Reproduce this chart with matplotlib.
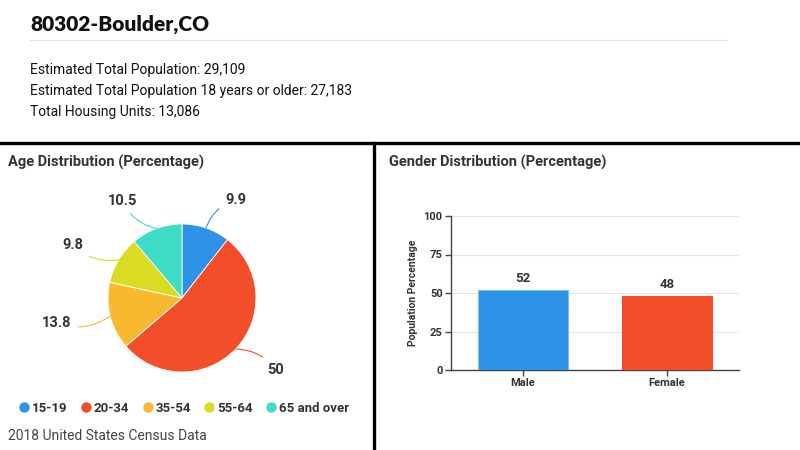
import numpy as np
import matplotlib
import matplotlib.pyplot as plt
from matplotlib.lines import Line2D

matplotlib.use('Agg')

# ── Data ─────────────────────────────────────────────────────────────────────
title = '80302-Boulder,CO'
stats = [
    'Estimated Total Population: 29,109',
    'Estimated Total Population 18 years or older: 27,183',
    'Total Housing Units: 13,086',
]
age_groups = ['15-19', '20-34', '35-54', '55-64', '65 and over']
age_values = [9.9, 50, 13.8, 9.8, 10.5]
age_colors = ['#2E93E6', '#F34E2A', '#F7B92F', '#DADC24', '#3EDBC5']

genders = ['Male', 'Female']
gender_values = [52, 48]
gender_colors = ['#2E93E6', '#F34E2A']
gender_yticks = [0, 25, 50, 75, 100]

W, H = 800, 450
ROBOTO = ['Roboto', 'DejaVu Sans']


def fx(px):
    return px / W


def fy(py):
    return 1 - py / H


fig = plt.figure(figsize=(8, 4.5), dpi=100, facecolor='white')

# ── Header ───────────────────────────────────────────────────────────────────
fig.text(fx(30), fy(24), title, fontsize=15, fontweight='heavy',
         family=['Lato', 'DejaVu Sans'], color='#111111', va='center')
fig.add_artist(Line2D([fx(30), fx(727)], [fy(40), fy(40)], color='#e2e2e2', lw=0.8))
for i, s in enumerate(stats):
    fig.text(fx(30), fy(70 + i * 21), s, fontsize=10, family=ROBOTO,
             color='#111111', va='center')

# panel separators
fig.add_artist(Line2D([0, 1], [fy(143), fy(143)], color='black', lw=2.4))
fig.add_artist(Line2D([fx(374), fx(374)], [fy(143), 0], color='black', lw=2.4))

fig.text(fx(8), fy(162), 'Age Distribution (Percentage)', fontsize=10.5,
         fontweight='bold', family=ROBOTO, color='#333333', va='center')
fig.text(fx(389), fy(162), 'Gender Distribution (Percentage)', fontsize=10.5,
         fontweight='bold', family=ROBOTO, color='#333333', va='center')

# ── Pie ──────────────────────────────────────────────────────────────────────
R = 74
ax1 = fig.add_axes([fx(182 - R), fy(298 + R), 2 * R / W, 2 * R / H])
wedges, _ = ax1.pie(age_values, colors=age_colors, startangle=90, counterclock=False,
                    wedgeprops=dict(edgecolor='white', linewidth=0.6))
ax1.set_xlim(-1, 1)
ax1.set_ylim(-1, 1)
ax1.set_aspect('auto')
ax1.axis('off')

for w, val, c in zip(wedges, age_values, age_colors):
    ang = np.deg2rad((w.theta1 + w.theta2) / 2)
    x, y = np.cos(ang), np.sin(ang)
    ha = 'left' if x > 0 else 'right'
    ax1.annotate(f'{val:g}', xy=(x, y), xytext=(1.42 * x + np.sign(x) * 0.12, 1.4 * y),
                 ha=ha, va='center', fontsize=10.5, fontweight='bold',
                 family=ROBOTO, color='#333333',
                 arrowprops=dict(arrowstyle='-', color=c, lw=0.8, shrinkA=3, shrinkB=0,
                                 connectionstyle='arc3,rad=0.25'),
                 annotation_clip=False)

handles = [Line2D([], [], marker='o', ls='', markersize=6.5, color=c) for c in age_colors]
fig.legend(handles, age_groups, loc='center left', bbox_to_anchor=(fx(12), fy(408)),
           ncol=5, frameon=False, handletextpad=0.1, columnspacing=0.9, borderaxespad=0,
           handlelength=1.0, prop=dict(family=ROBOTO, weight='bold', size=9.5),
           labelcolor='#333333')

fig.text(fx(8), fy(436), '2018 United States Census Data', fontsize=10,
         family=ROBOTO, color='#444444', va='center')

# ── Bars ─────────────────────────────────────────────────────────────────────
ax2 = fig.add_axes([fx(451), fy(370), 288 / W, 154 / H])
x = np.arange(len(genders))
bars = ax2.bar(x, gender_values, width=0.63, color=gender_colors, zorder=3,
               edgecolor=['#7CC0F2', gender_colors[1]], linewidth=0.8)
for b, v in zip(bars, gender_values):
    ax2.text(b.get_x() + b.get_width() / 2, v + 3, f'{v}', ha='center', va='bottom',
             fontsize=9.5, fontweight='bold', family=ROBOTO, color='#333333')

ax2.set_xlim(-0.5, 1.5)
ax2.set_ylim(0, 100)
ax2.set_yticks(gender_yticks)
ax2.set_xticks(x)
ax2.set_xticklabels(genders)
ax2.grid(axis='y', color='#e6e6e6', lw=0.8, zorder=0)
for sp in ['top', 'right']:
    ax2.spines[sp].set_visible(False)
for sp in ['left', 'bottom']:
    ax2.spines[sp].set_color('#444444')
    ax2.spines[sp].set_linewidth(1.0)
ax2.tick_params(axis='both', length=4, width=1.0, color='#444444', labelsize=8, pad=2,
                labelcolor='#333333')
for t in ax2.get_xticklabels() + ax2.get_yticklabels():
    t.set_fontweight('bold')
    t.set_family(ROBOTO)
ax2.set_ylabel('Population Percentage', fontsize=7.5, fontweight='bold',
               family=ROBOTO, color='#333333', labelpad=4)

fig.savefig('out.png', dpi=100, facecolor='white')
